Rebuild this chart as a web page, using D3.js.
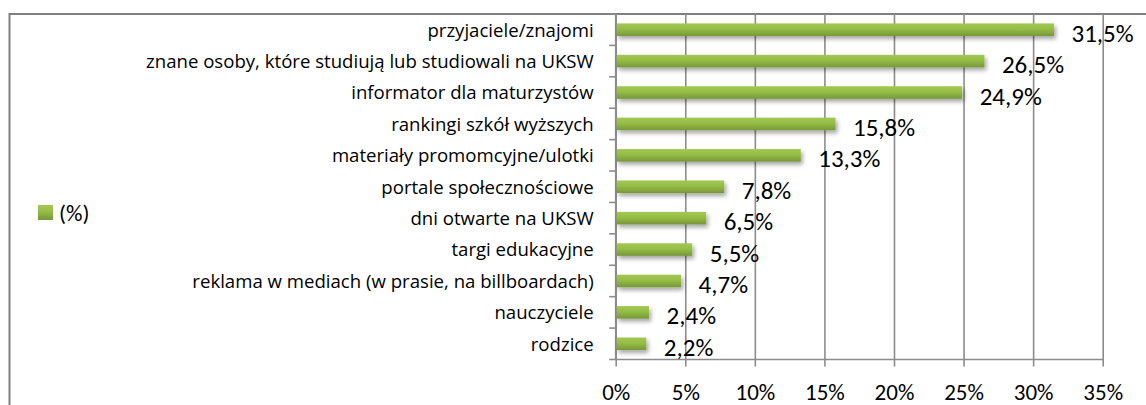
<!DOCTYPE html>
<html>
<head>
<meta charset="utf-8">
<script src="https://cdn.jsdelivr.net/npm/d3@7"></script>
<style>
  html, body { margin: 0; padding: 0; background: #fff; }
  svg { display: block; }
  text { font-family: Carlito, Calibri, Lato, sans-serif; fill: #000; }
</style>
</head>
<body>
<script>
const categories = [
  "przyjaciele/znajomi",
  "znane osoby, które studiują lub studiowali na UKSW",
  "informator dla maturzystów",
  "rankingi szkół wyższych",
  "materiały promomcyjne/ulotki",
  "portale społecznościowe",
  "dni otwarte na UKSW",
  "targi edukacyjne",
  "reklama w mediach (w prasie, na billboardach)",
  "nauczyciele",
  "rodzice"
];
const values = [31.5, 26.5, 24.9, 15.8, 13.3, 7.8, 6.5, 5.5, 4.7, 2.4, 2.2];
const valueLabels = ["31,5%", "26,5%", "24,9%", "15,8%", "13,3%", "7,8%", "6,5%", "5,5%", "4,7%", "2,4%", "2,2%"];
const xTicks = [0, 5, 10, 15, 20, 25, 30, 35];
const seriesName = "(%)";

const W = 1146, H = 405;
const plot = { left: 615.7, right: 1102.7, top: 14, bottom: 359.5 };

const svg = d3.select("body").append("svg").attr("width", W).attr("height", H);
const defs = svg.append("defs");
const grad = defs.append("linearGradient").attr("id", "barGrad")
  .attr("x1", 0).attr("y1", 0).attr("x2", 0).attr("y2", 1);
grad.append("stop").attr("offset", "0%").attr("stop-color", "#a2c853");
grad.append("stop").attr("offset", "45%").attr("stop-color", "#95bd45");
grad.append("stop").attr("offset", "100%").attr("stop-color", "#77973a");
const filt = defs.append("filter").attr("id", "shadow")
  .attr("x", "-10%").attr("y", "-50%").attr("width", "130%").attr("height", "250%");
filt.append("feDropShadow").attr("dx", 2).attr("dy", 3).attr("stdDeviation", 2.2)
  .attr("flood-color", "#000").attr("flood-opacity", 0.35);

// outer frame
svg.append("rect").attr("x", 9.5).attr("y", 14).attr("width", 1300).attr("height", 600)
  .attr("fill", "none").attr("stroke", "#7f7f7f").attr("stroke-width", 2);

const x = d3.scaleLinear().domain([0, 35]).range([plot.left, plot.right]);
const y = d3.scaleBand().domain(categories).range([plot.top, plot.bottom]).paddingInner(0.6).paddingOuter(0.3);
const yb = d3.scaleBand().domain(categories).range([plot.top, plot.bottom]);

// vertical gridlines (extending as ticks below axis)
const xAxis = d3.axisBottom(x).tickValues(xTicks).tickFormat(d => d + "%")
  .tickSize(-(plot.bottom - plot.top)).tickSizeOuter(0).tickPadding(0);
const gx = svg.append("g").attr("transform", `translate(0,${plot.bottom})`);
gx.call(xAxis);
gx.select(".domain").remove();
gx.selectAll(".tick line").attr("stroke", "#8c8c8c").attr("stroke-width", 1.6)
  .attr("y1", 7).attr("y2", -(plot.bottom - plot.top));
gx.selectAll(".tick text").attr("font-size", 23).attr("dy", 0).attr("y", 40)
  .attr("font-family", "Carlito, Calibri, Lato, sans-serif").attr("fill", "#000");

// axis lines
svg.append("line").attr("x1", plot.left).attr("x2", plot.right + 0.8)
  .attr("y1", plot.bottom).attr("y2", plot.bottom).attr("stroke", "#8c8c8c").attr("stroke-width", 1.6);
svg.append("line").attr("x1", plot.left).attr("x2", plot.left)
  .attr("y1", plot.top).attr("y2", plot.bottom).attr("stroke", "#8c8c8c").attr("stroke-width", 1.6);

// category ticks at band boundaries
const bounds = categories.map(c => yb(c)).concat([plot.bottom]);
svg.append("g").selectAll("line").data(bounds).join("line")
  .attr("x1", plot.left - 6.5).attr("x2", plot.left)
  .attr("y1", d => d).attr("y2", d => d)
  .attr("stroke", "#8c8c8c").attr("stroke-width", 1.6);

// category labels
svg.append("g").selectAll("text").data(categories).join("text")
  .attr("x", plot.left - 22).attr("y", d => yb(d) + yb.bandwidth() / 2 + 6.8)
  .attr("text-anchor", "end").attr("font-size", 18.6)
  .style("font-family", "'Open Sans', sans-serif").text(d => d);

// bars
svg.append("g").selectAll("rect").data(values).join("rect")
  .attr("x", x(0) + 1).attr("y", (d, i) => y(categories[i]))
  .attr("width", d => x(d) - x(0) - 1).attr("height", y.bandwidth())
  .attr("fill", "url(#barGrad)").attr("filter", "url(#shadow)");

// value labels
svg.append("g").selectAll("text").data(values).join("text")
  .attr("x", d => x(d) + 17.5).attr("y", (d, i) => yb(categories[i]) + yb.bandwidth() / 2 + 12)
  .attr("font-size", 25).text((d, i) => valueLabels[i]);

// legend
const lg = svg.append("g");
lg.append("rect").attr("x", 38).attr("y", 205).attr("width", 15).attr("height", 15).attr("fill", "url(#barGrad)");
lg.append("text").attr("x", 59).attr("y", 220.5).attr("font-size", 23).text(seriesName);
</script>
</body>
</html>
